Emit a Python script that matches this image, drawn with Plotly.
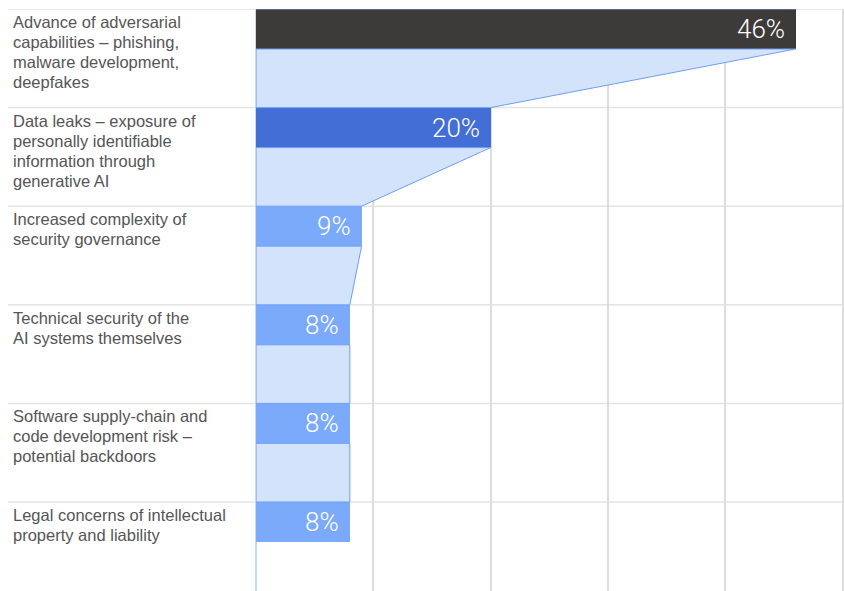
import plotly.graph_objects as go

categories = [
    "Advance of adversarial<br>capabilities – phishing,<br>malware development,<br>deepfakes",
    "Data leaks – exposure of<br>personally identifiable<br>information through<br>generative AI",
    "Increased complexity of<br>security governance",
    "Technical security of the<br>AI systems themselves",
    "Software supply-chain and<br>code development risk –<br>potential backdoors",
    "Legal concerns of intellectual<br>property and liability",
]
values = [46, 20, 9, 8, 8, 8]
value_labels = ["46%", "20%", "9%", "8%", "8%", "8%"]
bar_colors = ["#3d3b39", "#436ed6", "#7baafb", "#7baafb", "#7baafb", "#7baafb"]

W, H = 844, 591
ROW_PX = 98.6
TOP_PX = 9
BAR_PX = 40
LINE_PX = 20
bar_h = BAR_PX / ROW_PX
x_left_px, x_right_px = 256, 842.5
X_MAX = 50
x_max_vis = X_MAX * (W - x_left_px) / (x_right_px - x_left_px)

fig = go.Figure()

# funnel connectors
for i in range(len(values) - 1):
    fig.add_trace(go.Scatter(
        x=[0, values[i], values[i + 1], 0, 0],
        y=[i + bar_h, i + bar_h, i + 1, i + 1, i + bar_h],
        mode="lines", fill="toself", fillcolor="#d4e3fc",
        line=dict(color="#6d9ef5", width=1), hoverinfo="skip", showlegend=False,
    ))

fig.add_trace(go.Bar(
    x=values, y=[i + bar_h / 2 for i in range(len(values))], orientation="h",
    width=bar_h, marker=dict(color=bar_colors, line=dict(width=0)),
    showlegend=False, hoverinfo="skip",
))

annotations = []
for i, (v, t) in enumerate(zip(values, value_labels)):
    annotations.append(dict(
        x=v, y=i + bar_h / 2, xref="x", yref="y", text=t, showarrow=False,
        xanchor="right", yanchor="middle", xshift=-9,
        font=dict(family="Roboto", size=26, color="white", weight=300),
    ))
for i, c in enumerate(categories):
    for k, line in enumerate(c.split("<br>")):
        annotations.append(dict(
            x=11 / W, y=i, xref="paper", yref="y", text=line, showarrow=False,
            xanchor="left", yanchor="middle", yshift=-(13 + k * LINE_PX),
            font=dict(family="Liberation Sans", size=16.5, color="#555555"),
        ))

shapes = []
for i in range(len(values)):
    shapes.append(dict(type="line", xref="paper", yref="y", x0=8 / W, x1=x_right_px / W,
                       y0=i, y1=i, line=dict(color="#e3e3e3", width=1.5), layer="below"))
# blue top edge of the funnel
shapes.append(dict(type="line", xref="x", yref="y", x0=0, x1=values[0], y0=0, y1=0,
                   line=dict(color="#6d9ef5", width=1.2), layer="above"))

y_bot = (H - TOP_PX) / ROW_PX

fig.update_layout(
    width=W, height=H, margin=dict(l=0, r=0, t=0, b=0),
    paper_bgcolor="white", plot_bgcolor="white",
    xaxis=dict(domain=[x_left_px / W, 1.0], range=[0, x_max_vis], dtick=10, tick0=0,
               showgrid=True, gridcolor="#dddddd", gridwidth=1.5, zeroline=True,
               zerolinecolor="#c9d6ee", zerolinewidth=1.5, showticklabels=False, fixedrange=True),
    yaxis=dict(domain=[0, (H - TOP_PX) / H], range=[y_bot, 0], showgrid=False, zeroline=False,
               showticklabels=False, fixedrange=True),
    annotations=annotations, shapes=shapes, bargap=0,
)

fig.write_html(
    "out.html",
    config={"displayModeBar": False},
    post_script="document.body.style.margin='0';document.body.style.overflow='hidden';",
)
